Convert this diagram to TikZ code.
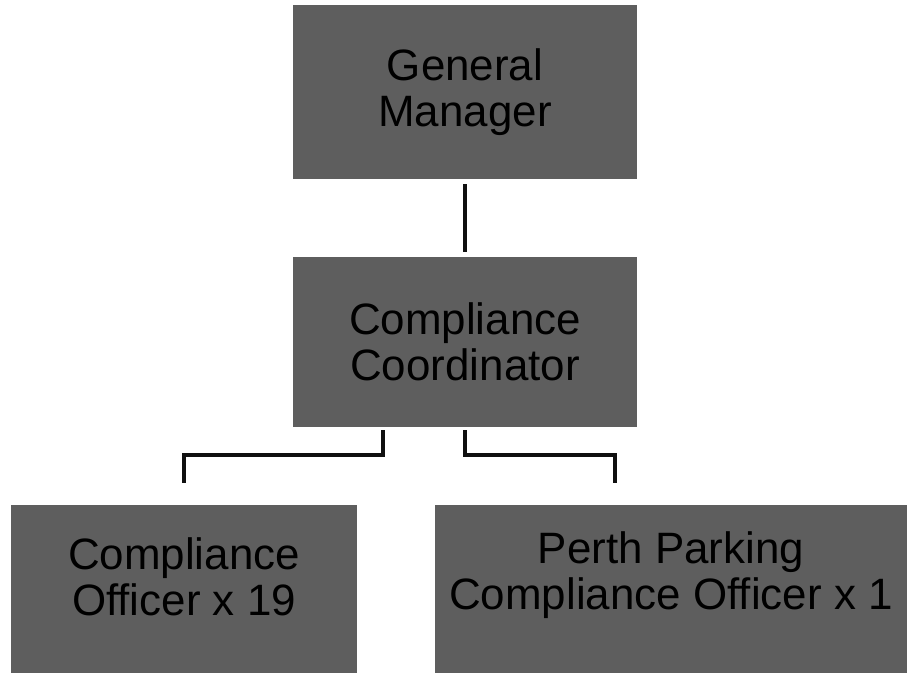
\documentclass[tikz,border=0pt]{standalone}
\usepackage{fontspec}
\setmainfont{Liberation Sans}
\usetikzlibrary{positioning,calc}
\definecolor{slate}{HTML}{5E5E5E}
\definecolor{ink}{HTML}{101010}

\tikzset{
  unitbox/.style={fill=slate,draw=none,inner sep=0pt,anchor=center},
  unittext/.style={text=black,align=center,font=\fontsize{25}{26.5}\selectfont},
  link/.style={draw=ink,line width=0.09cm,line cap=rect}
}

\begin{document}
\begin{tikzpicture}[x=0.02cm,y=-0.02cm]
    \useasboundingbox (0,0) rectangle (907,673);
    % boxes
    \node[unitbox,minimum width=6.9cm,minimum height=3.5cm] (gm) at (465,92) {};
    \node[unittext] (gmText) at (gm.center) {General\\Manager};
    \node[unitbox,minimum width=6.88cm,minimum height=3.42cm] (cc) at (465,342) {};
    \node[unittext] (ccText) at (cc.center) {Compliance\\Coordinator};
    \node[unitbox,minimum width=6.92cm,minimum height=3.36cm] (co) at (184,589) {};
    \node[unittext] (coText) at (184,577) {Compliance\\Officer x 19};
    \node[unitbox,minimum width=9.44cm,minimum height=3.36cm] (pp) at (671,589) {};
    \node[unittext] (ppText) at (671,575) {Perth Parking\\Compliance Officer x 1};
    % connector ends
    \coordinate (gmB) at ([yshift=-0.12cm]gm.south);
    \coordinate (ccT) at ([yshift=0.12cm]cc.north);
    \coordinate (ccL) at ([xshift=-1.64cm,yshift=-0.08cm]cc.south);
    \coordinate (ccR) at ([yshift=-0.08cm]cc.south);
    \coordinate (coT) at ([yshift=0.48cm]co.north);
    \coordinate (ppT) at ([xshift=-1.12cm,yshift=0.48cm]pp.north);
    % connectors
    \draw[link] (gmB) -- (ccT);
    \draw[link] (ccL) -- ++(0,23) -| (coT);
    \draw[link] (ccR) -- ++(0,23) -| (ppT);
\end{tikzpicture}
\end{document}
